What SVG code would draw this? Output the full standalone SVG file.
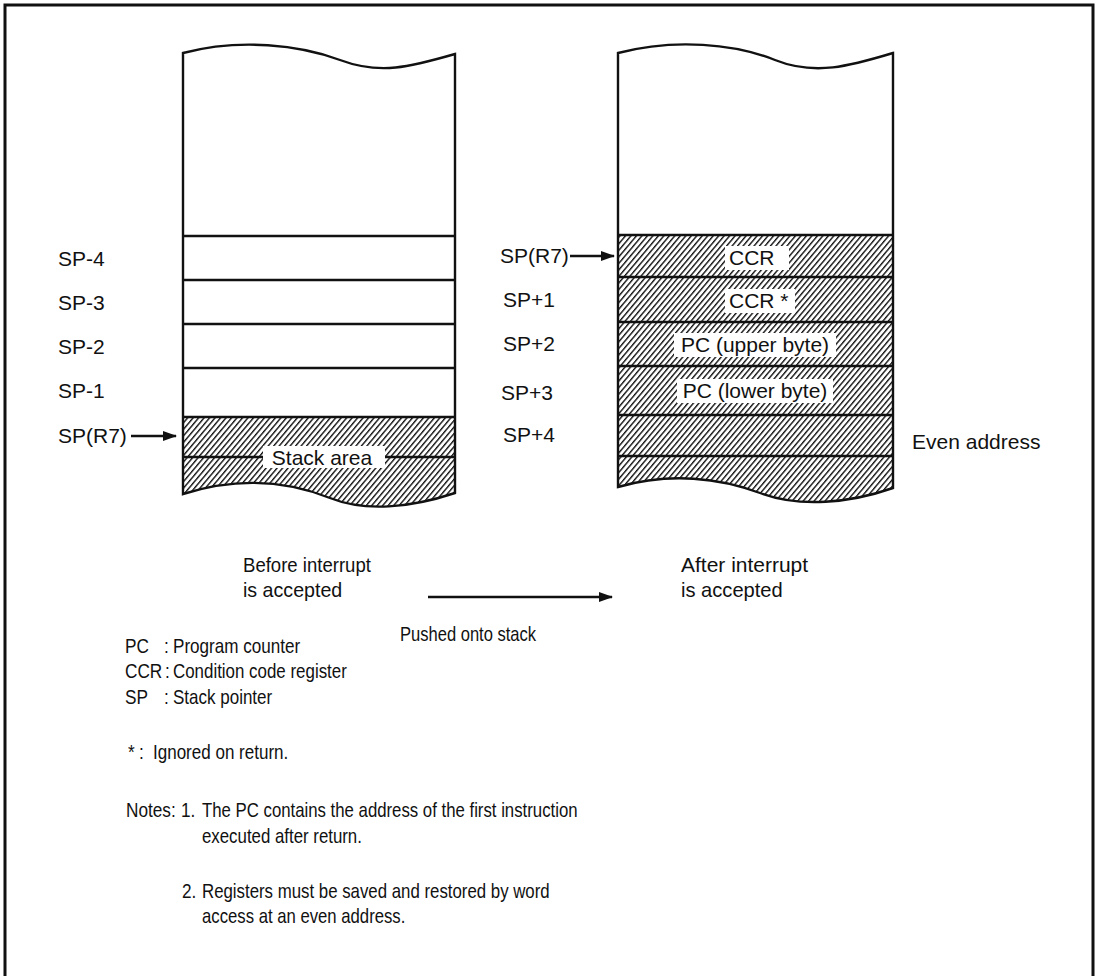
<svg xmlns="http://www.w3.org/2000/svg" width="1097" height="976" viewBox="0 0 1097 976">
<style>
.ln{fill:none;stroke:#111;stroke-width:2.4}
.t{font-family:"Liberation Sans",Arial,sans-serif;font-size:21px;fill:#111}
.n{font-family:"Liberation Sans",Arial,sans-serif;font-size:21px;fill:#111}
.wb{fill:#fff;stroke:none}
</style>
<defs>
<pattern id="hatch" patternUnits="userSpaceOnUse" width="4.2" height="4.2" patternTransform="rotate(40)">
<rect width="4.2" height="4.2" fill="#fff"/>
<line x1="0.7" y1="0" x2="0.7" y2="4.2" stroke="#111" stroke-width="1.4"/>
</pattern>
<marker id="ah" markerWidth="14" markerHeight="10" refX="13" refY="5" orient="auto" markerUnits="userSpaceOnUse">
<path d="M0,0 L14,5 L0,10 Z" fill="#111"/>
</marker>
</defs>
<rect width="1097" height="976" fill="#fff"/>
<path d="M5,976 L5,5 L1093,5 L1093,976" fill="none" stroke="#111" stroke-width="3"/>

<g id="stack-before">
<path d="M183,417 L455,417 L455,493 C410,508 365,512 330,498 C290,482 240,476 183,494 Z" fill="url(#hatch)"/>
<path class="ln" d="M183,53 C240,38 300,45 340,60 C380,75 410,67 455,54 L455,493 C410,508 365,512 330,498 C290,482 240,476 183,494 Z"/>
<line class="ln" x1="183" y1="236" x2="455" y2="236"/>
<line class="ln" x1="183" y1="280" x2="455" y2="280"/>
<line class="ln" x1="183" y1="324" x2="455" y2="324"/>
<line class="ln" x1="183" y1="368" x2="455" y2="368"/>
<line class="ln" x1="183" y1="417" x2="455" y2="417"/>
<line class="ln" x1="183" y1="457" x2="455" y2="457"/>
<rect class="wb" x="263" y="446" width="122" height="22"/>
<text class="t" x="322" y="465" text-anchor="middle">Stack area</text>
</g>

<g id="stack-after">
<path d="M618,235 L893,235 L893,488 C850,503 800,508 760,493 C720,478 670,472 618,487 Z" fill="url(#hatch)"/>
<path class="ln" d="M618,53 C675,38 735,44 775,60 C815,76 850,66 893,53 L893,488 C850,503 800,508 760,493 C720,478 670,472 618,487 Z"/>
<line class="ln" x1="618" y1="235" x2="893" y2="235"/>
<line class="ln" x1="618" y1="277" x2="893" y2="277"/>
<line class="ln" x1="618" y1="322" x2="893" y2="322"/>
<line class="ln" x1="618" y1="366" x2="893" y2="366"/>
<line class="ln" x1="618" y1="415" x2="893" y2="415"/>
<line class="ln" x1="618" y1="456" x2="893" y2="456"/>
<rect class="wb" x="725" y="246" width="64" height="24"/>
<text class="t" x="729" y="265">CCR</text>
<rect class="wb" x="725" y="289" width="70" height="24"/>
<text class="t" x="729" y="308">CCR *</text>
<rect class="wb" x="674" y="333" width="162" height="24"/>
<text class="t" x="755" y="352" text-anchor="middle">PC (upper byte)</text>
<rect class="wb" x="677" y="379" width="156" height="24"/>
<text class="t" x="755" y="398" text-anchor="middle">PC (lower byte)</text>
</g>

<g id="labels-left">
<text class="t" x="58" y="266">SP-4</text>
<text class="t" x="58" y="310">SP-3</text>
<text class="t" x="58" y="354">SP-2</text>
<text class="t" x="58" y="398">SP-1</text>
<text class="t" x="58" y="443">SP(R7)</text>
</g>

<g id="labels-right">
<text class="t" x="500" y="263">SP(R7)</text>
<text class="t" x="503" y="307">SP+1</text>
<text class="t" x="503" y="351">SP+2</text>
<text class="t" x="501" y="400">SP+3</text>
<text class="t" x="503" y="442">SP+4</text>
<text class="t" x="912" y="449">Even address</text>
</g>

<g id="connectors">
<line x1="131" y1="436" x2="176" y2="436" stroke="#111" stroke-width="2.6" marker-end="url(#ah)"/>
<line x1="570" y1="256" x2="614" y2="256" stroke="#111" stroke-width="2.6" marker-end="url(#ah)"/>
<line x1="428" y1="597" x2="612" y2="597" stroke="#111" stroke-width="2.6" marker-end="url(#ah)"/>
</g>

<g id="captions">
<text class="n" transform="translate(243,572) scale(0.82,1)" textLength="156" lengthAdjust="spacingAndGlyphs">Before interrupt</text>
<text class="n" transform="translate(243,597) scale(0.82,1)" textLength="121" lengthAdjust="spacingAndGlyphs">is accepted</text>
<text class="n" transform="translate(681,572) scale(0.82,1)" textLength="155" lengthAdjust="spacingAndGlyphs">After interrupt</text>
<text class="n" transform="translate(681,597) scale(0.82,1)" textLength="124" lengthAdjust="spacingAndGlyphs">is accepted</text>
<text class="n" transform="translate(400,641) scale(0.82,1)" textLength="166" lengthAdjust="spacingAndGlyphs">Pushed onto stack</text>
</g>

<g id="legend">
<text class="n" transform="translate(125,653) scale(0.82,1)">PC</text>
<text class="n" transform="translate(164,653) scale(0.82,1)">:</text>
<text class="n" transform="translate(173,653) scale(0.82,1)" textLength="155" lengthAdjust="spacingAndGlyphs">Program counter</text>
<text class="n" transform="translate(125,678) scale(0.82,1)">CCR</text>
<text class="n" transform="translate(165,678) scale(0.82,1)">:</text>
<text class="n" transform="translate(173,678) scale(0.82,1)" textLength="212" lengthAdjust="spacingAndGlyphs">Condition code register</text>
<text class="n" transform="translate(125,704) scale(0.82,1)">SP</text>
<text class="n" transform="translate(164,704) scale(0.82,1)">:</text>
<text class="n" transform="translate(173,704) scale(0.82,1)" textLength="121" lengthAdjust="spacingAndGlyphs">Stack pointer</text>
<text class="n" transform="translate(128,759) scale(0.82,1)">*</text>
<text class="n" transform="translate(139,759) scale(0.82,1)">:</text>
<text class="n" transform="translate(153,759) scale(0.82,1)" textLength="165" lengthAdjust="spacingAndGlyphs">Ignored on return.</text>
</g>

<g id="notes">
<text class="n" transform="translate(126,817) scale(0.82,1)">Notes:</text>
<text class="n" transform="translate(181,817) scale(0.82,1)">1.</text>
<text class="n" transform="translate(202,817) scale(0.82,1)" textLength="458" lengthAdjust="spacingAndGlyphs">The PC contains the address of the first instruction</text>
<text class="n" transform="translate(202,843) scale(0.82,1)" textLength="195" lengthAdjust="spacingAndGlyphs">executed after return.</text>
<text class="n" transform="translate(182,898) scale(0.82,1)">2.</text>
<text class="n" transform="translate(202,898) scale(0.82,1)" textLength="424" lengthAdjust="spacingAndGlyphs">Registers must be saved and restored by word</text>
<text class="n" transform="translate(202,923) scale(0.82,1)" textLength="248" lengthAdjust="spacingAndGlyphs">access at an even address.</text>
</g>
</svg>
